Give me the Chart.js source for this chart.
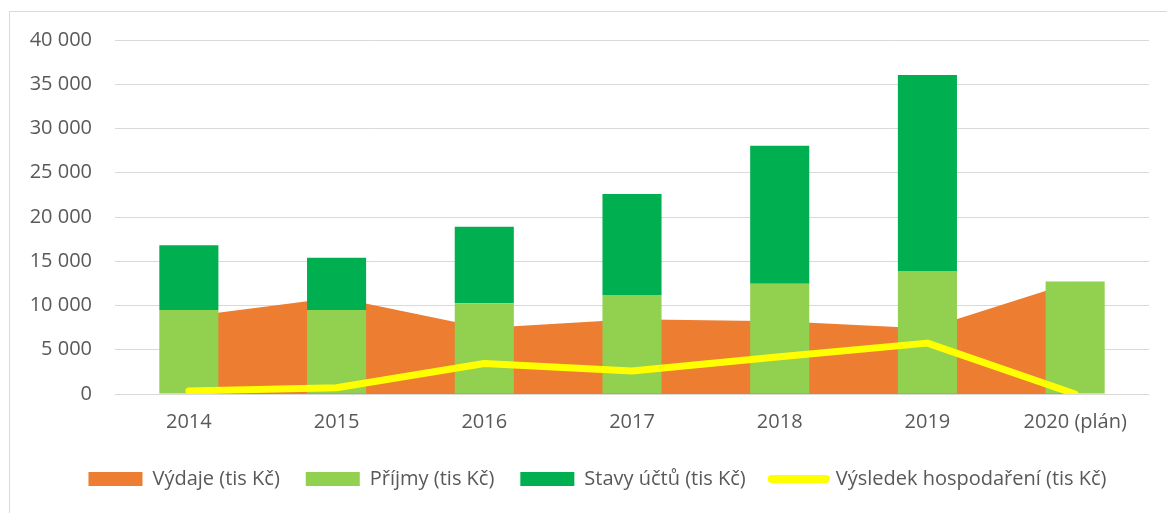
<!DOCTYPE html>
<html>
<head>
<meta charset="utf-8">
<script src="https://cdn.jsdelivr.net/npm/chart.js@4.4.0/dist/chart.umd.min.js"></script>
<style>
  html, body { margin: 0; padding: 0; background: #fff; overflow: hidden; }
  #frame { position: absolute; left: 9px; top: 11px; width: 1250px; height: 600px; border: 1px solid #d9d9d9; }
  #chart { position: absolute; left: 0; top: 0; }
</style>
</head>
<body>
<div id="frame"></div>
<canvas id="chart" width="1195" height="513"></canvas>
<script>
const years = ['2014', '2015', '2016', '2017', '2018', '2019', '2020 (plán)'];
const vydaje = [8750, 10900, 7450, 8450, 8220, 7400, 12700];
const prijmy = [9500, 9500, 10250, 11200, 12450, 13900, 12700];
const stavyUctu = [7300, 5900, 8650, 11400, 15600, 22150, null];
const vysledek = [350, 700, 3450, 2600, 4200, 5750, 0];

const textColor = '#595959';
const fontFamily = '"Open Sans", "Liberation Sans", sans-serif';

// space as thousands separator, e.g. 40 000
const fmt = v => String(v).replace(/\B(?=(\d{3})+(?!\d))/g, ' ');

// the original legend is centred on the whole frame, not on the plot
const shiftLegend = {
  id: 'shiftLegend',
  afterLayout(chart) {
    chart.legend.left += 23;
    chart.legend.right += 23;
  }
};

new Chart(document.getElementById('chart'), {
  type: 'bar',
  data: {
    labels: years,
    datasets: [
      {
        type: 'line',
        label: 'Výdaje (tis Kč)',
        data: vydaje,
        stack: 'area',
        fill: 'origin',
        backgroundColor: '#ED7D31',
        borderColor: '#ED7D31',
        borderWidth: 0,
        pointRadius: 0,
        tension: 0,
        order: 3
      },
      {
        label: 'Příjmy (tis Kč)',
        data: prijmy,
        stack: 'bars',
        backgroundColor: '#92D050',
        borderWidth: 0,
        order: 1
      },
      {
        label: 'Stavy účtů (tis Kč)',
        data: stavyUctu,
        stack: 'bars',
        backgroundColor: '#00B050',
        borderWidth: 0,
        order: 1
      },
      {
        type: 'line',
        label: 'Výsledek hospodaření (tis Kč)',
        data: vysledek,
        stack: 'result',
        fill: false,
        borderColor: '#FFFF00',
        backgroundColor: '#FFFF00',
        borderWidth: 7,
        borderCapStyle: 'round',
        borderJoinStyle: 'round',
        pointRadius: 0,
        tension: 0,
        order: 0
      }
    ]
  },
  options: {
    responsive: false,
    animation: false,
    layout: { padding: { top: 40, right: 46, bottom: 14, left: 0 } },
    datasets: {
      bar: { barPercentage: 0.4, categoryPercentage: 1.0 }
    },
    scales: {
      x: {
        stacked: true,
        offset: true,
        grid: { display: false, drawTicks: false },
        border: { display: false },
        ticks: { color: textColor, font: { family: fontFamily, size: 20 }, padding: 16, maxRotation: 0 },
        afterFit: s => { s.height = 49; }
      },
      y: {
        stacked: true,
        min: 0,
        max: 40000,
        grid: { color: '#d9d9d9', lineWidth: 1, drawTicks: false },
        border: { display: false },
        ticks: {
          stepSize: 5000,
          color: textColor,
          font: { family: fontFamily, size: 20 },
          padding: 23,
          callback: v => fmt(v)
        },
        afterFit: s => { s.width = 115; }
      }
    },
    plugins: {
      tooltip: { enabled: false },
      legend: {
        position: 'bottom',
        labels: {
          color: textColor,
          font: { family: fontFamily, size: 20 },
          usePointStyle: true,
          pointStyleWidth: 54,
          boxHeight: 14,
          padding: 26,
          sort: (a, b) => a.datasetIndex - b.datasetIndex,
          generateLabels: chart => {
            const items = Chart.defaults.plugins.legend.labels.generateLabels(chart);
            items.forEach(it => {
              if (it.datasetIndex === 3) {
                it.pointStyle = 'line';
                it.strokeStyle = '#FFFF00';
                it.lineWidth = 8;
                it.lineCap = 'round';
              } else {
                it.pointStyle = 'rect';
                it.lineWidth = 0;
                it.strokeStyle = it.fillStyle;
              }
            });
            return items;
          }
        }
      }
    }
  },
  plugins: [shiftLegend]
});
</script>
</body>
</html>
